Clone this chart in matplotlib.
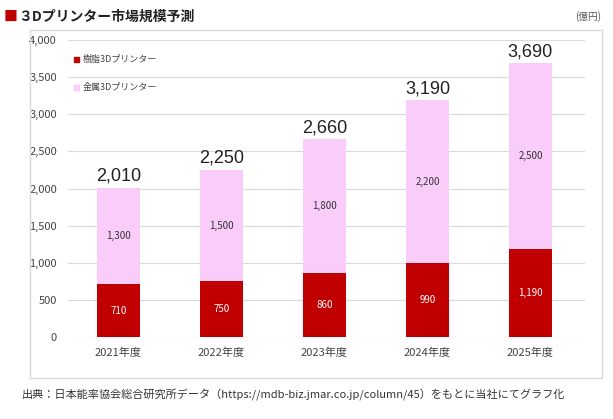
import matplotlib
matplotlib.use("Agg")
import matplotlib.pyplot as plt
from matplotlib.patches import Rectangle

plt.rcParams['font.family'] = ['Noto Sans CJK JP', 'DejaVu Sans']

years = ["2021年度", "2022年度", "2023年度", "2024年度", "2025年度"]
resin = [710, 750, 860, 990, 1190]
metal = [1300, 1500, 1800, 2200, 2500]
totals = [2010, 2250, 2660, 3190, 3690]
yticks = [0, 500, 1000, 1500, 2000, 2500, 3000, 3500, 4000]

W, H = 613, 419
fig = plt.figure(figsize=(W/100, H/100), dpi=100)
fig.patches.append(Rectangle((30/W, 1-378/H), 572/W, 348/H, transform=fig.transFigure,
                             fill=False, edgecolor='#d9d9d9', lw=1))
ax = fig.add_axes([68/W, 1-337/H, (585-68)/W, (337-40)/H])
x = range(len(years))
red = '#c00000'; pink = '#f9ccf9'
ax.bar(x, resin, width=0.41, color=red, zorder=3)
ax.bar(x, metal, bottom=resin, width=0.41, color=pink, zorder=3)
for i in x:
    ax.text(i, resin[i]/2, f"{resin[i]:,}", ha='center', va='center', color='white', fontsize=7)
    ax.text(i, resin[i]+metal[i]/2, f"{metal[i]:,}", ha='center', va='center', color='#333333', fontsize=7)
    ax.text(i, totals[i]+40, f"{totals[i]:,}", ha='center', va='bottom', color='#222222', fontsize=13,
            family=['Liberation Sans', 'DejaVu Sans'])
ax.set_ylim(0, 4000)
ax.set_xlim(-0.49, 4.53)
ax.set_yticks(yticks)
ax.set_yticklabels([f"{v:,}" for v in yticks], fontsize=8, color='#444444')
ax.set_xticks(list(x))
ax.set_xticklabels(years, fontsize=8, color='#444444')
ax.grid(axis='y', color='#d9d9d9', lw=0.8, zorder=0)
for s in ax.spines.values():
    s.set_visible(False)
ax.tick_params(length=0, pad=8)
ax.add_patch(Rectangle((-0.43, 3700), 0.05, 70, color=red, clip_on=False))
ax.text(-0.35, 3735, "樹脂3Dプリンター", fontsize=6.5, va='center', color='#444444')
ax.add_patch(Rectangle((-0.43, 3330), 0.05, 70, color=pink, clip_on=False))
ax.text(-0.35, 3365, "金属3Dプリンター", fontsize=6.5, va='center', color='#444444')

fig.text(4/W, 1-17/H, "■", color=red, fontsize=10, va='center')
fig.text(18/W, 1-17/H, "３Dプリンター市場規模予測", color='#222222', fontsize=10, va='center', weight='bold')
fig.text(575/W, 1-17/H, "(億円)", color='#555555', fontsize=7, va='center')
fig.text(22/W, 1-395/H, "出典：日本能率協会総合研究所データ（https://mdb-biz.jmar.co.jp/column/45）をもとに当社にてグラフ化",
         color='#333333', fontsize=8, va='center')
fig.savefig("out.png", dpi=100)
